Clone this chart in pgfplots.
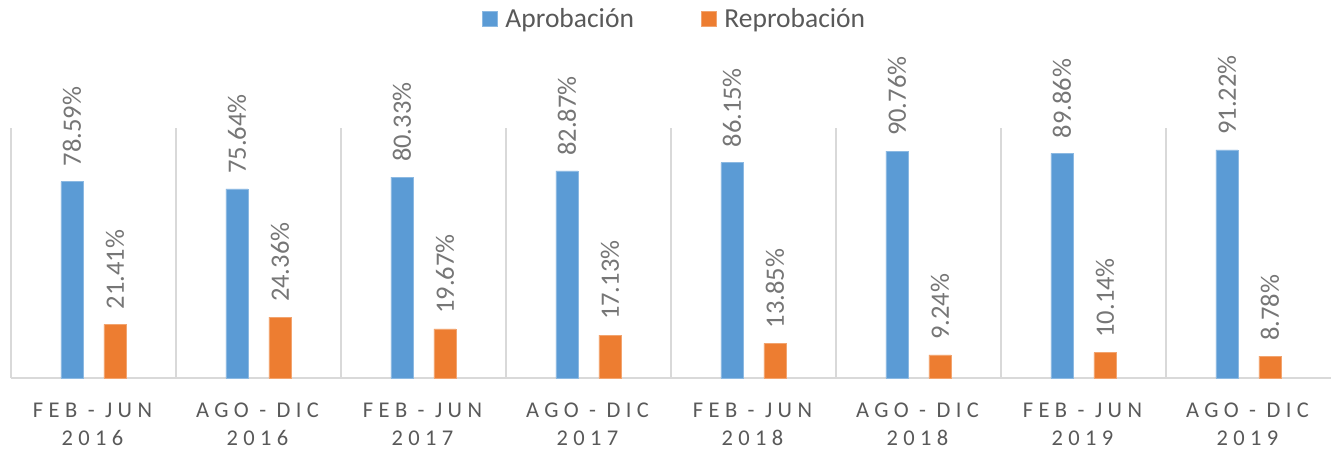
\documentclass[border=0pt]{standalone}
\usepackage{fontspec}
\setmainfont{Carlito}
\newfontfamily\spaced[LetterSpace=24]{Carlito}
\usepackage{pgfplots}
\pgfplotsset{compat=1.18}
\definecolor{cblue}{HTML}{5B9BD5}
\definecolor{corange}{HTML}{ED7D31}
\definecolor{ctext}{HTML}{595959}
\definecolor{clabel}{HTML}{767676}
\definecolor{cgrid}{HTML}{D9D9D9}
\begin{document}
\begin{tikzpicture}
\path[use as bounding box] (0,0) rectangle (1331pt,451pt);
\begin{axis}[
  at={(11pt,73pt)}, anchor=south west,
  scale only axis, width=1320pt, height=250pt,
  xmin=-0.5, xmax=7.5, ymin=0, ymax=100,
  ybar=21pt, bar width=22pt,
  axis x line*=bottom, axis y line=none,
  x axis line style={draw=cgrid, line width=1.5pt, -},
  xtick={0,...,7},
  xticklabels={{FEB - JUN\\2016},{AGO - DIC\\2016},{FEB - JUN\\2017},{AGO - DIC\\2017},{FEB - JUN\\2018},{AGO - DIC\\2018},{FEB - JUN\\2019},{AGO - DIC\\2019}},
  xticklabel style={align=center, font=\spaced\fontsize{22.5}{28}\selectfont, text=ctext, inner sep=0pt, anchor=north, yshift=-25pt, xshift=-1pt},
  major tick length=0pt, minor tick length=0pt,
  minor xtick={-0.5,0.5,...,6.5},
  xminorgrids, minor grid style={draw=cgrid, line width=1.3pt},
  clip=false,
  /pgf/number format/assume math mode=true,
  nodes near coords={\pgfmathprintnumber[fixed, fixed zerofill, precision=2]{\pgfplotspointmeta}\%},
  every node near coord/.append style={rotate=90, anchor=west, inner sep=0pt, inner xsep=15pt, font=\fontsize{26.5}{30}\selectfont, text=clabel},
  legend columns=2,
  legend style={at={(0.502,1.436)}, anchor=center, draw=none, fill=none, inner sep=0pt,
    font=\fontsize{27.5}{30}\selectfont, text=ctext, nodes={inner sep=0pt},
    /tikz/every odd column/.append style={column sep=8pt},
    /tikz/every even column/.append style={column sep=67pt}},
  legend image code/.code={\fill[#1] (0pt,-7.5pt) rectangle (15pt,7.5pt);},
]
\addplot[fill=cblue, draw=cblue!70!white, line width=0.4pt] coordinates {(0,78.59) (1,75.64) (2,80.33) (3,82.87) (4,86.15) (5,90.76) (6,89.86) (7,91.22)};
\addplot[fill=corange, draw=corange!70!white, line width=0.4pt] coordinates {(0,21.41) (1,24.36) (2,19.67) (3,17.13) (4,13.85) (5,9.24) (6,10.14) (7,8.78)};
\legend{Aprobación, Reprobación}
\end{axis}
\end{tikzpicture}
\end{document}
